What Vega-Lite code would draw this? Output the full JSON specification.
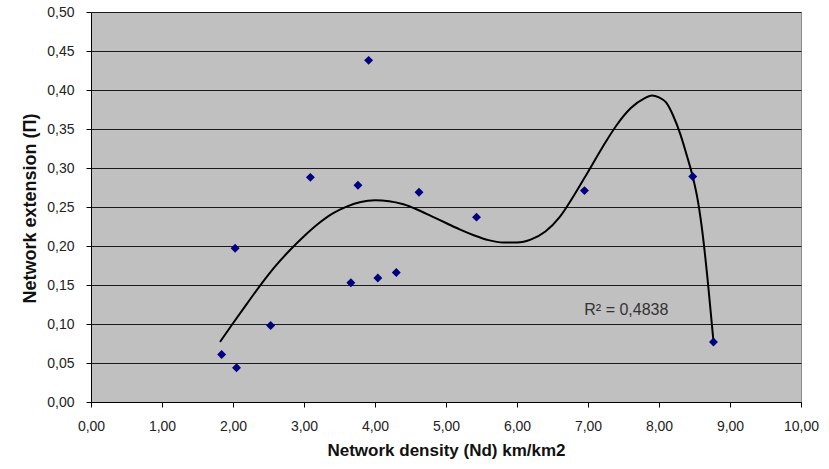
{
  "$schema": "https://vega.github.io/schema/vega-lite/v6.json",
  "width": 710,
  "height": 390,
  "autosize": {"type": "none"},
  "padding": {"left": 91, "top": 12, "right": 28, "bottom": 67},
  "background": "white",
  "config": {
    "font": "Liberation Sans",
    "view": {"fill": "#C0C0C0", "stroke": "#8a8a8a", "strokeWidth": 1}
  },
  "datasets": {
    "points": [
      {"x": 1.84, "y": 0.061},
      {"x": 2.05, "y": 0.044},
      {"x": 2.03, "y": 0.197},
      {"x": 2.53, "y": 0.098},
      {"x": 3.09, "y": 0.288},
      {"x": 3.91, "y": 0.438},
      {"x": 3.76, "y": 0.278},
      {"x": 3.66, "y": 0.153},
      {"x": 4.04, "y": 0.159},
      {"x": 4.30, "y": 0.166},
      {"x": 4.62, "y": 0.269},
      {"x": 5.43, "y": 0.237},
      {"x": 6.95, "y": 0.271},
      {"x": 8.475, "y": 0.289},
      {"x": 8.767, "y": 0.077}
    ],
    "curve": [
      {"x": 1.817, "y": 0.077},
      {"x": 2.0, "y": 0.101},
      {"x": 2.2, "y": 0.1265},
      {"x": 2.4, "y": 0.1515},
      {"x": 2.6, "y": 0.1745},
      {"x": 2.8, "y": 0.1945},
      {"x": 3.0, "y": 0.2125},
      {"x": 3.2, "y": 0.2285},
      {"x": 3.4, "y": 0.2415},
      {"x": 3.6, "y": 0.2505},
      {"x": 3.8, "y": 0.2565},
      {"x": 4.0, "y": 0.2585},
      {"x": 4.2, "y": 0.2575},
      {"x": 4.4, "y": 0.2535},
      {"x": 4.6, "y": 0.2465},
      {"x": 4.8, "y": 0.238},
      {"x": 5.0, "y": 0.2295},
      {"x": 5.2, "y": 0.221},
      {"x": 5.4, "y": 0.2135},
      {"x": 5.6, "y": 0.2075},
      {"x": 5.8, "y": 0.2045},
      {"x": 6.0, "y": 0.2045},
      {"x": 6.2, "y": 0.2085},
      {"x": 6.4, "y": 0.2185},
      {"x": 6.6, "y": 0.237},
      {"x": 6.8, "y": 0.2645},
      {"x": 7.0, "y": 0.295},
      {"x": 7.2, "y": 0.326},
      {"x": 7.4, "y": 0.3545},
      {"x": 7.6, "y": 0.3765},
      {"x": 7.8, "y": 0.3895},
      {"x": 7.9, "y": 0.393},
      {"x": 8.0, "y": 0.3905},
      {"x": 8.1, "y": 0.384},
      {"x": 8.2, "y": 0.367},
      {"x": 8.3, "y": 0.3435},
      {"x": 8.4, "y": 0.3135},
      {"x": 8.475, "y": 0.289},
      {"x": 8.55, "y": 0.2565},
      {"x": 8.62, "y": 0.2115},
      {"x": 8.69, "y": 0.152},
      {"x": 8.767, "y": 0.078}
    ],
    "note": [
      {"x": 7.54, "y": 0.1175, "label": "R² = 0,4838"}
    ]
  },
  "encoding": {
    "x": {
      "field": "x",
      "type": "quantitative",
      "scale": {"domain": [0, 10], "nice": false, "zero": false},
      "axis": {
        "title": "Network density (Nd) km/km2",
        "values": [0, 1, 2, 3, 4, 5, 6, 7, 8, 9, 10],
        "grid": false,
        "tickSize": 5,
        "tickColor": "black",
        "domainColor": "black",
        "labelPadding": 12,
        "labelFontSize": 14,
        "labelColor": "#222",
        "labelFlush": false,
        "labelOverlap": false,
        "labelExpr": "replace(format(datum.value, '.2f'), '.', ',')",
        "titleFontSize": 17,
        "titleFontWeight": "bold",
        "titleColor": "#111",
        "titleBaseline": "alphabetic",
        "titleX": 355,
        "titleY": 53
      }
    },
    "y": {
      "field": "y",
      "type": "quantitative",
      "scale": {"domain": [0, 0.5], "nice": false},
      "axis": {
        "title": "Network extension (П)",
        "values": [0, 0.05, 0.1, 0.15, 0.2, 0.25, 0.3, 0.35, 0.4, 0.45, 0.5],
        "grid": true,
        "gridColor": "#1a1a1a",
        "gridOpacity": 1,
        "gridWidth": 1,
        "tickSize": 5,
        "tickColor": "black",
        "domainColor": "black",
        "labelPadding": 12,
        "labelFontSize": 14,
        "labelColor": "#222",
        "labelFlush": false,
        "labelOverlap": false,
        "labelExpr": "replace(format(datum.value, '.2f'), '.', ',')",
        "titleFontSize": 18,
        "titleFontWeight": "bold",
        "titleColor": "#111",
        "titleAngle": -90,
        "titleAlign": "center",
        "titleBaseline": "middle",
        "titleX": -61,
        "titleY": 196
      }
    }
  },
  "layer": [
    {
      "data": {"name": "curve"},
      "mark": {"type": "line", "interpolate": "monotone", "color": "black", "strokeWidth": 2}
    },
    {
      "data": {"name": "points"},
      "mark": {"type": "point", "shape": "diamond", "filled": true, "color": "#000080", "size": 80, "opacity": 1}
    },
    {
      "data": {"name": "note"},
      "mark": {"type": "text", "fontSize": 16, "color": "#333", "baseline": "middle", "align": "center"},
      "encoding": {"text": {"field": "label"}}
    }
  ]
}
